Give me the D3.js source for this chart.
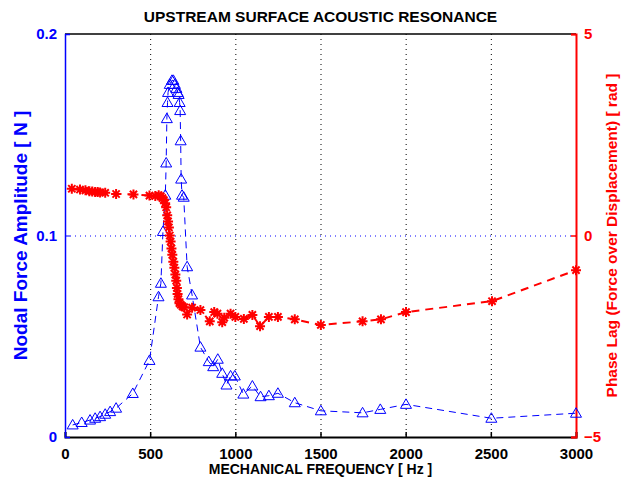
<!DOCTYPE html>
<html><head><meta charset="utf-8">
<script src="https://cdn.jsdelivr.net/npm/d3@7"></script>
<style>body{margin:0;background:#fff}svg{display:block}text{font-family:"Liberation Sans",Arial,sans-serif;font-weight:bold}</style>
</head><body>
<script>
const ampFreq = [45,98,147,177,206,236,265,300,398,496,549,563,575,589,594,598,602,605,615,628,636,645,654,662,667,673,676,679,682,687,697,717,746,795,844,870,897,923,948,972,997,1047,1100,1148,1197,1250,1349,1502,1747,1851,2002,2503,3000];
const ampVals = [0.006,0.0072,0.0084,0.0093,0.0101,0.0113,0.0126,0.0143,0.0216,0.038,0.0696,0.0763,0.102,0.120,0.136,0.158,0.166,0.171,0.175,0.177,0.177,0.175,0.173,0.171,0.170,0.166,0.162,0.147,0.128,0.120,0.119,0.0845,0.0705,0.0446,0.0374,0.0349,0.0386,0.0316,0.0258,0.0303,0.0303,0.0213,0.0253,0.020,0.0205,0.0217,0.017,0.013,0.012,0.0137,0.0162,0.0093,0.0118];
const phaseFreq = [40,88,120,143,160,177,192,206,236,300,402,496,530,550,562,572,580,588,594,600,605,610,615,620,625,630,636,642,648,653,657,661,666,672,680,690,700,717,746,795,850,876,895,923,935,972,1000,1050,1100,1145,1197,1250,1349,1502,1747,1855,2002,2507,3000];
const phaseVals = [1.16,1.14,1.12,1.10,1.09,1.08,1.08,1.07,1.06,1.03,1.02,0.99,0.98,1.0,0.97,0.93,0.88,0.80,0.70,0.50,0.35,0.20,0.00,-0.15,-0.32,-0.48,-0.65,-0.80,-0.97,-1.12,-1.30,-1.45,-1.58,-1.68,-1.72,-1.76,-1.78,-1.96,-1.79,-1.85,-2.13,-1.90,-1.94,-2.15,-2.04,-1.94,-2.02,-2.07,-1.97,-2.25,-2.02,-2.02,-2.08,-2.22,-2.13,-2.08,-1.90,-1.63,-0.86];
const xTicks = [0,500,1000,1500,2000,2500,3000];
const yTicksL = [0,0.1,0.2];
const yTicksR = [-5,0,5];
const titleText = "UPSTREAM SURFACE ACOUSTIC RESONANCE";
const xLabel = "MECHANICAL FREQUENCY [ Hz ]";
const yLabelL = "Nodal Force Amplitude [ N ]";
const yLabelR = "Phase Lag (Force over Displacement) [ rad ]";

const W=629,H=481, L=65,R=576,T=34,B=437;
const svg=d3.select("body").append("svg").attr("width",W).attr("height",H);
const x=d3.scaleLinear().domain([0,3000]).range([L,R]);
const yL=d3.scaleLinear().domain([0,0.2]).range([B,T]);
const yR=d3.scaleLinear().domain([-5,5]).range([B,T]);
const blue="#0000ff", red="#ff0000";
const FF="'Liberation Sans',Arial,sans-serif";

// grid
svg.append("g").selectAll("line").data(xTicks.filter(d=>d>0&&d<3000)).join("line")
 .attr("x1",d=>x(d)+0.5).attr("x2",d=>x(d)+0.5).attr("y1",T).attr("y2",B)
 .attr("stroke","#000").attr("stroke-width",1).attr("stroke-dasharray","1,4");
svg.append("line").attr("x1",L).attr("x2",R).attr("y1",yL(0.1)+0.5).attr("y2",yL(0.1)+0.5)
 .attr("stroke",blue).attr("stroke-width",1).attr("stroke-dasharray","1,4");

// top border
svg.append("line").attr("x1",L).attr("x2",R).attr("y1",T).attr("y2",T).attr("stroke","#000").attr("stroke-width",1.5);

// bottom axis
const xa=svg.append("g").attr("transform",`translate(0,${B})`)
 .call(d3.axisBottom(x).tickValues(xTicks).tickSize(-5).tickPadding(11).tickFormat(d3.format("d")));
xa.select(".domain").attr("stroke","#000").attr("stroke-width",2);
xa.selectAll(".tick line").attr("stroke","#000").attr("stroke-width",1.5);
xa.selectAll("text").attr("fill","#000").style("font-size","15px").style("font-family",FF).style("font-weight","bold");

// left axis
const ya=svg.append("g").attr("transform",`translate(${L},0)`)
 .call(d3.axisLeft(yL).tickValues(yTicksL).tickSize(-5).tickPadding(8).tickFormat(d=>d===0?"0":d3.format(".1f")(d)));
ya.select(".domain").attr("stroke",blue).attr("stroke-width",1.5);
ya.selectAll(".tick line").attr("stroke",blue);
ya.selectAll("text").attr("fill",blue).style("font-size","15px").style("font-family",FF).style("font-weight","bold");

// right axis
const ra=svg.append("g").attr("transform",`translate(${R},0)`)
 .call(d3.axisRight(yR).tickValues(yTicksR).tickSize(-5).tickPadding(8).tickFormat(d3.format("d")));
ra.select(".domain").attr("stroke",red).attr("stroke-width",2);
ra.selectAll(".tick line").attr("stroke",red).attr("stroke-width",1.5);
ra.selectAll("text").attr("fill",red).style("font-size","15px").style("font-family",FF).style("font-weight","bold");

// amplitude series
const ampData=ampFreq.map((f,i)=>[f,ampVals[i]]);
svg.append("path").datum(ampData).attr("fill","none").attr("stroke",blue).attr("stroke-width",1)
 .attr("stroke-dasharray","7,5")
 .attr("d",d3.line().x(d=>x(d[0])).y(d=>yL(d[1])));
svg.append("g").selectAll("path").data(ampData).join("path")
 .attr("transform",d=>`translate(${x(d[0])},${yL(d[1])})`)
 .attr("d","M0,-5.5L5.5,4L-5.5,4Z").attr("fill","none").attr("stroke",blue).attr("stroke-width",1);

// phase series
const phData=phaseFreq.map((f,i)=>[f,phaseVals[i]]);
svg.append("path").datum(phData).attr("fill","none").attr("stroke",red).attr("stroke-width",2)
 .attr("stroke-dasharray","8,6")
 .attr("d",d3.line().x(d=>x(d[0])).y(d=>yR(d[1])));
const s=5, s2=3.6;
svg.append("g").selectAll("path").data(phData).join("path")
 .attr("transform",d=>`translate(${x(d[0])},${yR(d[1])})`)
 .attr("d",`M${-s},0L${s},0M0,${-s}L0,${s}M${-s2},${-s2}L${s2},${s2}M${-s2},${s2}L${s2},${-s2}`)
 .attr("fill","none").attr("stroke",red).attr("stroke-width",2);

// texts
svg.append("text").attr("x",(L+R)/2).attr("y",22).attr("text-anchor","middle").attr("fill","#000")
 .style("font-size","15.5px").text(titleText);
svg.append("text").attr("x",(L+R)/2).attr("y",474).attr("text-anchor","middle").attr("fill","#000")
 .style("font-size","14px").text(xLabel);
svg.append("text").attr("transform",`translate(27,${(T+B)/2}) rotate(-90)`).attr("text-anchor","middle").attr("fill",blue)
 .style("font-size","19px").text(yLabelL);
svg.append("text").attr("transform",`translate(617,${(T+B)/2}) rotate(-90)`).attr("text-anchor","middle").attr("fill",red)
 .style("font-size","15.5px").text(yLabelR);
</script>
</body></html>
